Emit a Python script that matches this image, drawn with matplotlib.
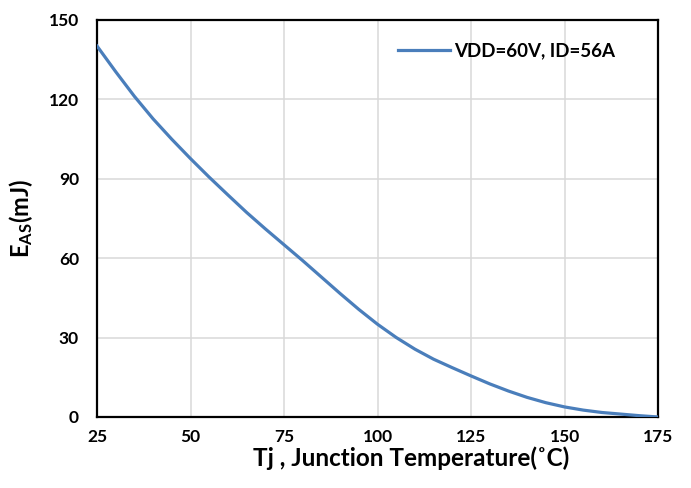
import matplotlib
matplotlib.use("Agg")
import matplotlib.pyplot as plt

plt.rcParams["font.family"] = ["Lato", "DejaVu Sans"]
plt.rcParams["font.weight"] = "bold"
plt.rcParams["mathtext.fontset"] = "custom"
plt.rcParams["mathtext.rm"] = "Lato:bold"
plt.rcParams["mathtext.bf"] = "Lato:bold"
plt.rcParams["mathtext.default"] = "bf"

# data
tj = [25, 30, 35, 40, 45, 50, 55, 60, 65, 70, 75, 80, 85, 90, 95, 100,
      105, 110, 115, 120, 125, 130, 135, 140, 145, 150, 155, 160, 165, 170, 175]
eas = [140, 130.3, 121, 112.5, 104.8, 97.5, 90.5, 83.8, 77.2, 71, 65, 59, 52.8,
       46.6, 40.6, 35, 30, 25.6, 21.8, 18.6, 15.5, 12.5, 9.8, 7.4, 5.4, 3.8,
       2.6, 1.7, 1.1, 0.5, 0]
series_label = "VDD=60V, ID=56A"
xticks = [25, 50, 75, 100, 125, 150, 175]
yticks = [0, 30, 60, 90, 120, 150]

fig = plt.figure(figsize=(6.91, 4.88), dpi=100)
ax = fig.add_axes([0.1404, 0.1455, 0.8119, 0.8145])

ax.plot(tj, eas, color="#4a7ebb", lw=2.3, label=series_label, zorder=3)

ax.set_xlim(25, 175)
ax.set_ylim(0, 150)
ax.set_xticks(xticks)
ax.set_yticks(yticks)
ax.grid(True, color="#d9d9d9", lw=1.1)
ax.set_axisbelow(True)
for s in ax.spines.values():
    s.set_linewidth(1.6)
    s.set_color("black")
ax.tick_params(length=0, labelsize=12.5)
ax.tick_params(axis="x", pad=9)
ax.tick_params(axis="y", pad=13)

ax.set_xlabel("Tj , Junction Temperature(\u02daC)", fontsize=17.5, fontweight="bold")
ax.xaxis.set_label_coords(0.56, -0.075)
ax.set_ylabel(r"E$_{AS}$(mJ)", fontsize=17, fontweight="bold", labelpad=10)

leg = ax.legend(loc="upper right", bbox_to_anchor=(0.953, 0.985), frameon=False,
                fontsize=13.5, handlelength=2.8, handletextpad=0.2)

fig.savefig("out.png", dpi=100)
